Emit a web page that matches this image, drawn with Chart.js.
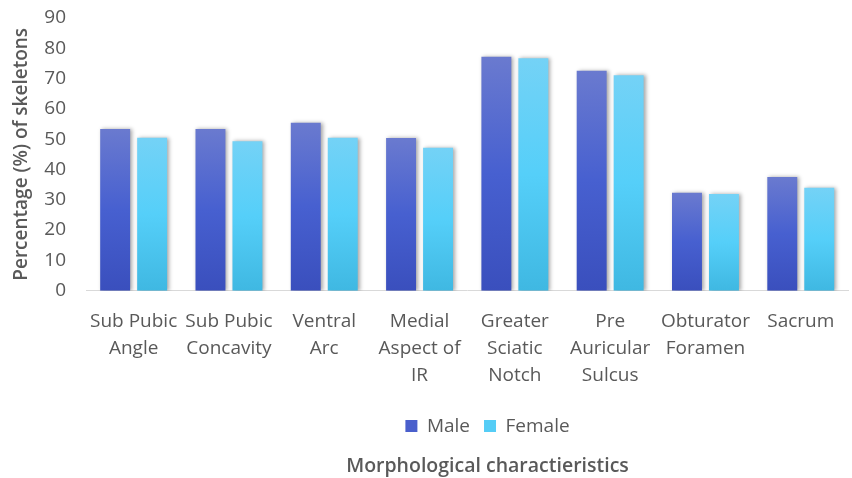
<!DOCTYPE html>
<html>
<head>
<meta charset="utf-8">
<script src="https://cdn.jsdelivr.net/npm/chart.js@4/dist/chart.umd.min.js"></script>
<style>
html,body{margin:0;padding:0;background:#fff;}
#wrap{width:852px;height:478px;position:relative;}
</style>
</head>
<body>
<div id="wrap"><canvas id="c" width="852" height="478"></canvas></div>
<script>
const categories = [
  ["Sub Pubic","Angle"],
  ["Sub Pubic","Concavity"],
  ["Ventral","Arc"],
  ["Medial","Aspect of","IR"],
  ["Greater","Sciatic","Notch"],
  ["Pre","Auricular","Sulcus"],
  ["Obturator","Foramen"],
  ["Sacrum"]
];
const maleValues   = [53.4, 53.4, 55.4, 50.4, 77.2, 72.6, 32.3, 37.5];
const femaleValues = [50.5, 49.3, 50.5, 47.2, 76.7, 71.1, 31.9, 34.0];
const yTicks = [0,10,20,30,40,50,60,70,80,90];

const FONT = "'Open Sans', sans-serif";
const TXT = "#595959";

function barGradient(stops, fallback){
  return function(ctx){
    const chart = ctx.chart;
    if(!chart.chartArea || ctx.type !== 'data') return fallback;
    const ys = chart.scales.y;
    const top = ys.getPixelForValue(ctx.raw);
    const bottom = ys.getPixelForValue(0);
    if(!isFinite(top) || !isFinite(bottom) || top === bottom) return fallback;
    const g = chart.ctx.createLinearGradient(0, top, 0, bottom);
    stops.forEach(s => g.addColorStop(s[0], s[1]));
    return g;
  };
}

const shadowPlugin = {
  id: 'barShadow',
  beforeDatasetsDraw(chart){
    const c = chart.ctx;
    c.save();
    c.shadowColor = 'rgba(0,0,0,0.35)';
    c.shadowBlur = 4;
    c.shadowOffsetX = 2;
    c.shadowOffsetY = 0;
  },
  afterDatasetsDraw(chart){
    chart.ctx.restore();
  }
};

// centre legend and bottom title a little right of the canvas centre, as in the reference
const shiftPlugin = {
  id: 'shiftBottom',
  afterLayout(chart){
    const dx = 58;
    [chart.legend, chart.titleBlock].forEach(b => {
      if (b) { b.left += dx; b.right += dx; }
    });
  }
};

new Chart(document.getElementById('c'), {
  type: 'bar',
  data: {
    labels: categories,
    datasets: [
      {
        label: 'Male',
        data: maleValues,
        backgroundColor: barGradient([[0,'#6a7acf'],[0.5,'#4760d0'],[1,'#3a4fbd']], '#4a5fcc'),
        borderWidth: 0,
        categoryPercentage: 0.776,
        barPercentage: 0.81
      },
      {
        label: 'Female',
        data: femaleValues,
        backgroundColor: barGradient([[0,'#74d2f6'],[0.5,'#55cff9'],[1,'#3fb8e2']], '#55cdf6'),
        borderWidth: 0,
        categoryPercentage: 0.776,
        barPercentage: 0.81
      }
    ]
  },
  options: {
    responsive: false,
    animation: false,
    devicePixelRatio: 1,
    layout: { padding: { top: 18, right: 3, left: 10, bottom: 0 } },
    plugins: {
      legend: {
        position: 'bottom',
        labels: {
          boxWidth: 12, boxHeight: 12,
          color: TXT,
          font: { family: FONT, size: 19 },
          padding: 14,
          generateLabels(chart){
            return [
              { text: 'Male', fillStyle: '#4a5fcc', strokeStyle: '#4a5fcc', lineWidth: 0, datasetIndex: 0, fontColor: TXT },
              { text: 'Female', fillStyle: '#55cdf6', strokeStyle: '#55cdf6', lineWidth: 0, datasetIndex: 1, fontColor: TXT }
            ];
          }
        }
      },
      title: {
        display: true,
        position: 'bottom',
        text: 'Morphological charactieristics',
        color: TXT,
        font: { family: FONT, size: 19.5, weight: '600' },
        padding: { top: 9, bottom: 0 }
      },
      tooltip: { enabled: false }
    },
    scales: {
      x: {
        grid: { display: false, drawTicks: false },
        border: { display: true, color: '#d9d9d9', width: 1 },
        ticks: {
          color: TXT,
          font: { family: FONT, size: 19, lineHeight: 1.42 },
          padding: 17.5,
          maxRotation: 0,
          autoSkip: false
        },
        afterFit(scale){ scale.height -= 4; }
      },
      y: {
        min: 0, max: 90,
        afterBuildTicks(axis){ axis.ticks = yTicks.map(v => ({ value: v })); },
        afterFit(scale){ scale.width = 76; scale.paddingTop = 0; scale.paddingBottom = 0; },
        grid: { display: false, drawTicks: false },
        border: { display: false },
        ticks: {
          color: TXT,
          font: { family: FONT, size: 19 },
          padding: 20
        },
        title: {
          display: true,
          text: 'Percentage (%) of skeletons',
          color: TXT,
          font: { family: FONT, size: 19, weight: '600' },
          padding: { top: 0, bottom: 0 }
        }
      }
    }
  },
  plugins: [shadowPlugin, shiftPlugin]
});
</script>
</body>
</html>
